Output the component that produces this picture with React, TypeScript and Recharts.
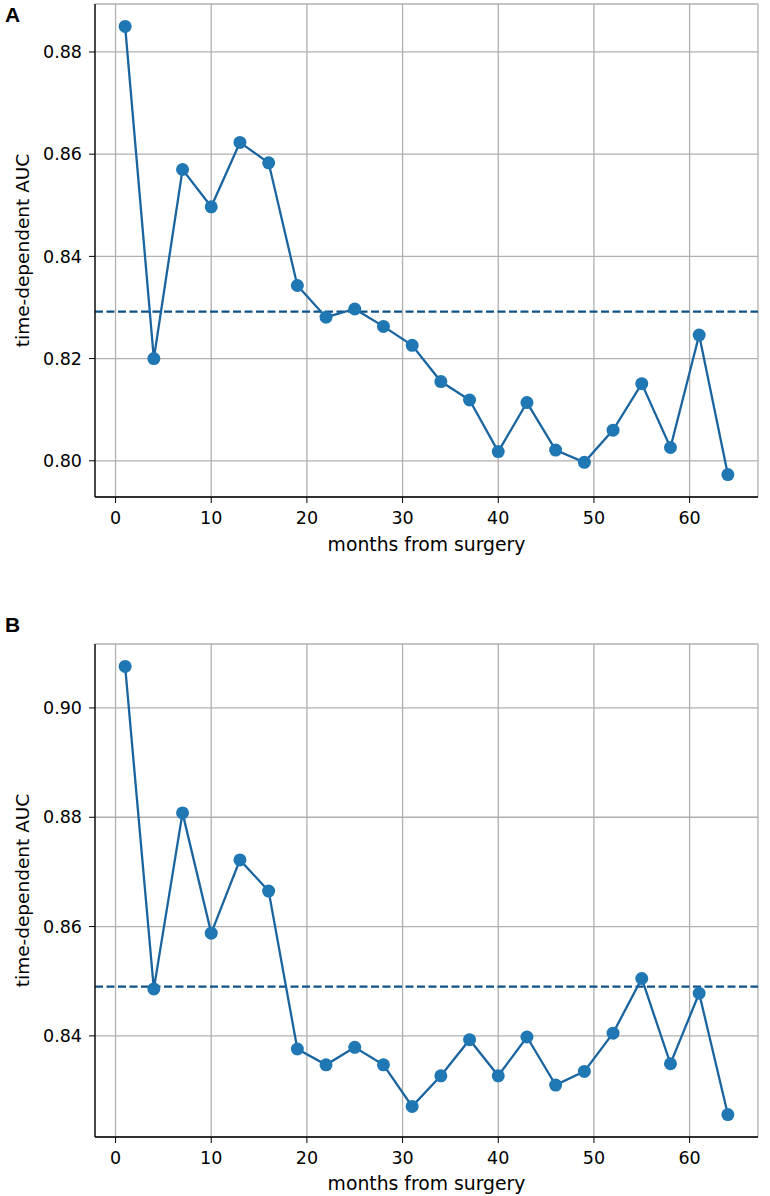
import { LineChart, Line, XAxis, YAxis, CartesianGrid, ReferenceLine } from "recharts";

const months = [1, 4, 7, 10, 13, 16, 19, 22, 25, 28, 31, 34, 37, 40, 43, 46, 49, 52, 55, 58, 61, 64];

const aucA = [
  0.885, 0.82, 0.857, 0.8497, 0.8623, 0.8583, 0.8343, 0.8281, 0.8297, 0.8263, 0.8226,
  0.8155, 0.8119, 0.8018, 0.8114, 0.8021, 0.7997, 0.806, 0.8151, 0.8026, 0.8246, 0.7973,
];
const aucB = [
  0.9076, 0.8486, 0.8808, 0.8588, 0.8722, 0.8665, 0.8376, 0.8347, 0.8379, 0.8347, 0.8271,
  0.8327, 0.8393, 0.8327, 0.8398, 0.831, 0.8335, 0.8405, 0.8505, 0.8349, 0.8478, 0.8256,
];

const meanA = 0.8292;
const meanB = 0.849;

const xTicks = [0, 10, 20, 30, 40, 50, 60];
const yTicksA = [0.8, 0.82, 0.84, 0.86, 0.88];
const yTicksB = [0.84, 0.86, 0.88, 0.9];

const BLUE = "#1f77b4";
const LINE = "#1a64a0";
const DASH = "#0f5288";
const GRID = "#b0b0b0";
const FONT = "DejaVu Sans";

// matplotlib style 5% padding around the data range
function pad(values: number[]): [number, number] {
  const lo = Math.min(...values);
  const hi = Math.max(...values);
  const m = (hi - lo) * 0.05;
  return [lo - m, hi + m];
}

const xDomain = pad(months);

interface PanelProps {
  values: number[];
  mean: number;
  yTicks: number[];
  height: number;
  top: number;
  bottom: number;
  xHeight: number;
}

function Panel({ values, mean, yTicks, height, top, bottom, xHeight }: PanelProps) {
  const data = months.map((m, i) => ({ month: m, auc: values[i] }));
  const yDomain = pad(values);
  const tickStyle = { fill: "#000", fontSize: 17.5, fontFamily: FONT };

  return (
    <LineChart width={770} height={height} data={data} margin={{ top, right: 12, bottom, left: 0 }}>
      <CartesianGrid stroke={GRID} strokeWidth={1.3} />
      <XAxis
        dataKey="month"
        type="number"
        domain={xDomain}
        ticks={xTicks}
        height={xHeight}
        tick={tickStyle}
        tickSize={6}
        tickMargin={9}
        tickLine={{ stroke: "#000" }}
        axisLine={{ stroke: "#000", strokeWidth: 1.3 }}
        label={{
          value: "months from surgery",
          position: "insideBottom",
          offset: 6,
          style: { fill: "#000", fontSize: 18.8, fontFamily: FONT },
        }}
      />
      <XAxis
        xAxisId="top"
        orientation="top"
        type="number"
        domain={xDomain}
        height={0}
        tick={false}
        tickLine={false}
        axisLine={{ stroke: "#000", strokeWidth: 1.3 }}
      />
      <YAxis
        type="number"
        domain={yDomain}
        ticks={yTicks}
        width={95}
        tick={tickStyle}
        tickSize={6}
        tickMargin={7}
        tickFormatter={(v: number) => v.toFixed(2)}
        tickLine={{ stroke: "#000" }}
        axisLine={{ stroke: "#000", strokeWidth: 1.3 }}
        label={{
          value: "time-dependent AUC",
          angle: -90,
          position: "insideLeft",
          offset: 22,
          style: { fill: "#000", fontSize: 18.5, fontFamily: FONT, textAnchor: "middle" },
        }}
      />
      <YAxis
        yAxisId="right"
        orientation="right"
        type="number"
        domain={yDomain}
        width={0}
        tick={false}
        tickLine={false}
        axisLine={{ stroke: "#000", strokeWidth: 1.3 }}
      />
      <ReferenceLine y={mean} stroke={DASH} strokeWidth={2.2} strokeDasharray="8 3.5" />
      <Line
        type="linear"
        dataKey="auc"
        stroke={LINE}
        strokeWidth={2.3}
        dot={{ r: 6.5, fill: BLUE, stroke: BLUE, strokeWidth: 0 }}
        activeDot={false}
        isAnimationActive={false}
      />
    </LineChart>
  );
}

const letterStyle: React.CSSProperties = {
  position: "absolute",
  left: 5,
  fontFamily: "Liberation Sans",
  fontWeight: "bold",
  fontSize: 21,
  lineHeight: 1,
};

export default function App() {
  return (
    <div style={{ position: "absolute", left: 0, top: 0, width: 770, height: 1196, background: "#fff" }}>
      <div style={{ position: "absolute", left: 0, top: 0 }}>
        <Panel values={aucA} mean={meanA} yTicks={yTicksA} height={600} top={4} bottom={43} xHeight={60} />
      </div>
      <div style={{ position: "absolute", left: 0, top: 600 }}>
        <Panel values={aucB} mean={meanB} yTicks={yTicksB} height={596} top={44} bottom={0} xHeight={59} />
      </div>
      <div style={{ ...letterStyle, top: 4 }}>A</div>
      <div style={{ ...letterStyle, top: 614 }}>B</div>
    </div>
  );
}
